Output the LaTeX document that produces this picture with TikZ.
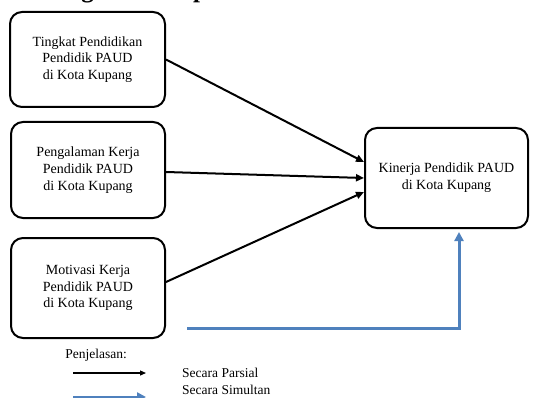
\documentclass[tikz,border=0pt]{standalone}
\usepackage{fontspec}
\setmainfont{Liberation Serif}
\usetikzlibrary{arrows.meta}
\definecolor{simblue}{HTML}{4F81BD}
\tikzset{
  varbox/.style={draw=black, line width=2pt, rounded corners=12pt, align=center,
    font=\fontsize{14}{16.8}\selectfont, inner sep=0pt},
  partarrow/.style={draw=black, line width=2pt, -{Triangle[length=8pt,width=7pt]}},
  simarrow/.style={draw=simblue, line width=3pt, -{Triangle[length=9pt,width=9pt]}},
  legtext/.style={font=\fontsize{13.5}{15}\selectfont, inner sep=0pt},
}
\begin{document}
\begin{tikzpicture}[x=1pt,y=-1pt]
\useasboundingbox (0,0) rectangle (545,398);
\clip (0,0) rectangle (545,398);
\fill[white] (0,0) rectangle (545,398);
% clipped title (only descenders show)
\node[anchor=base west, inner sep=0pt, font=\fontsize{25}{30}\selectfont\bfseries] (title) at (13,-2) {Kerangka Konseptual};
% boxes
\node[varbox, minimum width=155pt, minimum height=95pt] (b1) at (87.5,59.5)
  {Tingkat Pendidikan\\Pendidik PAUD\\di Kota Kupang};
\node[varbox, minimum width=154pt, minimum height=96pt] (b2) at (88,170)
  {Pengalaman Kerja\\Pendidik PAUD\\di Kota Kupang};
\node[varbox, minimum width=154pt, minimum height=100pt] (b3) at (88,288)
  {Motivasi Kerja\\Pendidik PAUD\\di Kota Kupang};
\node[varbox, minimum width=163pt, minimum height=100pt] (r) at (446.5,178)
  {Kinerja Pendidik PAUD\\di Kota Kupang};
% partial arrows
\draw[partarrow] (b1.east) -- ([yshift=16pt]r.west);
\draw[partarrow] ([yshift=-2pt]b2.east) -- (r.west);
\draw[partarrow] ([yshift=6pt]b3.east) -- ([yshift=-14pt]r.west);
% simultaneous arrow
\coordinate (bs) at (187,328);
\draw[simarrow, shorten >=3pt] (bs) -| ([xshift=12.5pt]r.south);
% legend
\node[legtext] (pj) at (96,355) {Penjelasan:};
\coordinate (la1) at (73,373);
\coordinate (la2) at (146,373);
\draw[draw=black, line width=1.2pt, -{Triangle[length=6pt,width=5pt]}] (la1) -- (la2);
\node[legtext, anchor=west] (sp) at (182,373) {Secara Parsial};
\node[legtext, anchor=west] (ss) at (182,390) {Secara Simultan};
\coordinate (lb1) at (73,397);
\coordinate (lb2) at (146,397);
\draw[simarrow] (lb1) -- (lb2);
\end{tikzpicture}
\end{document}
